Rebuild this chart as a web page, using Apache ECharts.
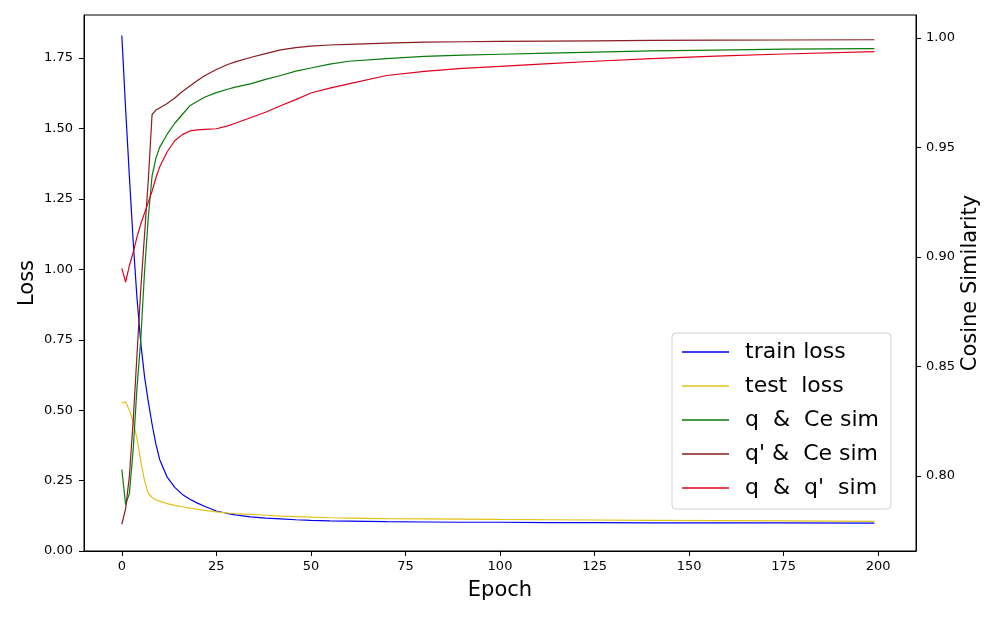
<!DOCTYPE html>
<html>
<head>
<meta charset="utf-8">
<title>Loss / Cosine Similarity</title>
<script src="https://cdn.jsdelivr.net/npm/echarts@6.0.0/dist/echarts.min.js"></script>
<style>
  html, body { margin: 0; padding: 0; background: #fff; }
  #chart { width: 1000px; height: 618px; }
</style>
</head>
<body>
<div id="chart"></div>
<script>
const epochs = [0, 1, 2, 3, 4, 5, 6, 7, 8, 9, 10, 12, 14, 16, 18, 20, 22, 25, 28, 30, 34, 38, 42, 46, 50, 55, 60, 70, 80, 90, 100, 113, 125, 140, 157, 175, 199]

// left axis (Loss)
const trainLoss = [1.83, 1.57, 1.33, 1.10, 0.90, 0.74, 0.62, 0.53, 0.45, 0.38, 0.325, 0.262, 0.226, 0.201, 0.184, 0.170, 0.158, 0.142, 0.133, 0.128, 0.121, 0.117, 0.114, 0.111, 0.109, 0.107, 0.106, 0.104, 0.103, 0.102, 0.102, 0.101, 0.101, 0.100, 0.100, 0.100, 0.099]
const testLoss = [0.525, 0.53, 0.50, 0.46, 0.40, 0.32, 0.25, 0.205, 0.19, 0.182, 0.177, 0.168, 0.162, 0.157, 0.152, 0.148, 0.144, 0.139, 0.135, 0.133, 0.130, 0.127, 0.124, 0.122, 0.120, 0.118, 0.117, 0.115, 0.114, 0.113, 0.112, 0.111, 0.110, 0.109, 0.108, 0.107, 0.105]

// right axis (Cosine Similarity)
const qCeSim = [0.803, 0.787, 0.792, 0.812, 0.840, 0.862, 0.893, 0.918, 0.937, 0.945, 0.950, 0.956, 0.961, 0.965, 0.969, 0.971, 0.973, 0.975, 0.9765, 0.9775, 0.979, 0.981, 0.9828, 0.9848, 0.9862, 0.988, 0.9893, 0.9905, 0.9915, 0.9921, 0.9925, 0.993, 0.9935, 0.994, 0.9944, 0.9948, 0.9951]
const qpCeSim = [0.778, 0.785, 0.800, 0.825, 0.855, 0.885, 0.910, 0.935, 0.965, 0.967, 0.968, 0.970, 0.9725, 0.9755, 0.978, 0.9805, 0.9828, 0.9855, 0.9878, 0.989, 0.991, 0.9928, 0.9945, 0.9955, 0.9962, 0.9967, 0.997, 0.9976, 0.998, 0.9982, 0.9984, 0.9985, 0.9986, 0.9988, 0.9989, 0.999, 0.9991]
const qqpSim = [0.8948, 0.8885, 0.896, 0.902, 0.909, 0.915, 0.920, 0.925, 0.930, 0.936, 0.941, 0.948, 0.953, 0.9558, 0.9575, 0.958, 0.9582, 0.9585, 0.9598, 0.961, 0.9635, 0.966, 0.969, 0.9718, 0.9748, 0.977, 0.979, 0.9828, 0.9847, 0.986, 0.987, 0.9882, 0.9893, 0.9905, 0.9916, 0.9926, 0.9937]

// tick labels
const xTicks = [0, 25, 50, 75, 100, 125, 150, 175, 200]
const lossTicks = [0, 0.25, 0.5, 0.75, 1.0, 1.25, 1.5, 1.75]
const simTicks = [0.80, 0.85, 0.90, 0.95, 1.00]

const names = ['train loss', 'test  loss', 'q  &  Ce sim', "q' &  Ce sim", "q  &  q'  sim"]
const colors = ['#0000ee', '#e2c21c', '#0a7a0a', '#8a1c22', '#e0001e']

const font = 'DejaVu Sans'

const pairs = (ys) => epochs.map((e, i) => [e, ys[i]])

const makeLine = (name, color, data, yIndex) => ({
  name: name,
  type: 'line',
  yAxisIndex: yIndex,
  symbol: 'none',
  smooth: false,
  silent: true,
  animation: false,
  lineStyle: { color: color, width: 1.2 },
  itemStyle: { color: color },
  data: pairs(data)
})

const chart = echarts.init(document.getElementById('chart'), null, { renderer: 'canvas' })

const option = {
  animation: false,
  backgroundColor: '#ffffff',
  textStyle: { fontFamily: font },
  grid: {
    left: 84,
    right: 84,
    top: 15,
    bottom: 67,
    show: true,
    borderColor: '#000',
    borderWidth: 1,
    backgroundColor: 'transparent'
  },
  legend: {
    orient: 'vertical',
    left: 672,
    top: 333,
    padding: [8, 12, 10, 10],
    itemGap: 12,
    itemWidth: 47,
    itemHeight: 1.5,
    icon: 'rect',
    backgroundColor: 'rgba(255,255,255,0.8)',
    borderColor: '#d0d0d0',
    borderWidth: 1,
    borderRadius: 4,
    data: names,
    textStyle: {
      fontFamily: font,
      fontSize: 22,
      lineHeight: 22,
      color: '#000',
      padding: [0, 0, 0, 11]
    }
  },
  xAxis: {
    type: 'value',
    min: -10,
    max: 210,
    name: 'Epoch',
    nameLocation: 'middle',
    nameGap: 29,
    nameMoveOverlap: false,
    nameTextStyle: { fontFamily: font, fontSize: 21, color: '#000' },
    axisLine: { show: true, onZero: false, lineStyle: { color: '#000', width: 1 } },
    axisTick: { show: true, length: 5, customValues: xTicks, lineStyle: { color: '#000' } },
    axisLabel: {
      customValues: xTicks,
      margin: 9,
      fontFamily: font,
      fontSize: 13,
      color: '#000'
    },
    splitLine: { show: false }
  },
  yAxis: [
    {
      type: 'value',
      position: 'left',
      min: 0,
      max: 1.903,
      name: 'Loss',
      nameLocation: 'middle',
      nameRotate: 90,
      nameGap: 46,
      nameMoveOverlap: false,
      nameTextStyle: { fontFamily: font, fontSize: 21, color: '#000' },
      axisLine: { show: true, onZero: false, lineStyle: { color: '#000', width: 1 } },
      axisTick: { show: true, length: 5, customValues: lossTicks, lineStyle: { color: '#000' } },
      axisLabel: {
        customValues: lossTicks,
        margin: 11,
        fontFamily: font,
        fontSize: 13,
        color: '#000',
        formatter: (v) => v.toFixed(2)
      },
      splitLine: { show: false }
    },
    {
      type: 'value',
      position: 'right',
      min: 0.7658,
      max: 1.0104,
      name: 'Cosine Similarity',
      nameLocation: 'middle',
      nameRotate: 90,
      nameGap: 44,
      nameMoveOverlap: false,
      nameTextStyle: { fontFamily: font, fontSize: 21, color: '#000' },
      axisLine: { show: true, onZero: false, lineStyle: { color: '#000', width: 1 } },
      axisTick: { show: true, length: 5, customValues: simTicks, lineStyle: { color: '#000' } },
      axisLabel: {
        customValues: simTicks,
        margin: 10,
        fontFamily: font,
        fontSize: 13,
        color: '#000',
        formatter: (v) => v.toFixed(2)
      },
      splitLine: { show: false }
    }
  ],
  series: [
    makeLine(names[0], colors[0], trainLoss, 0),
    makeLine(names[1], colors[1], testLoss, 0),
    makeLine(names[2], colors[2], qCeSim, 1),
    makeLine(names[3], colors[3], qpCeSim, 1),
    makeLine(names[4], colors[4], qqpSim, 1)
  ]
}

chart.setOption(option)
</script>
</body>
</html>
